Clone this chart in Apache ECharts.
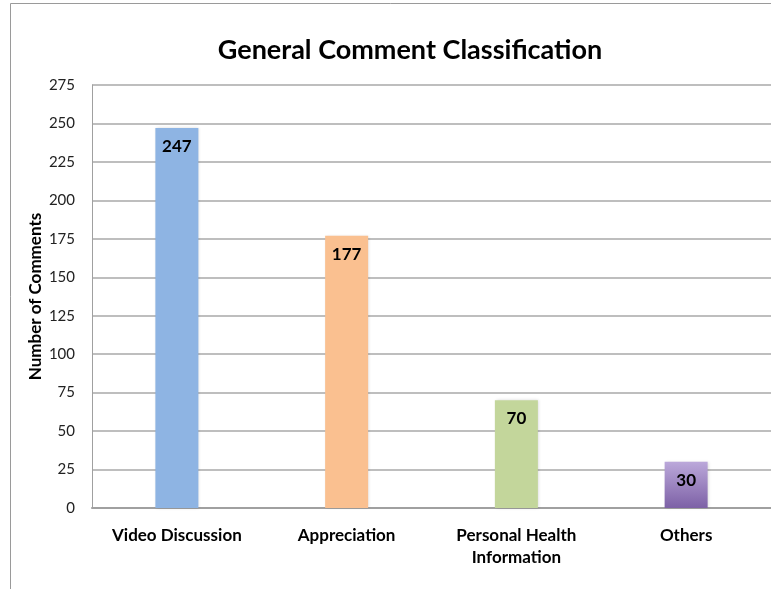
<!DOCTYPE html>
<html>
<head>
<meta charset="utf-8">
<script src="https://cdn.jsdelivr.net/npm/echarts@6/dist/echarts.min.js"></script>
<style>
  html, body { margin: 0; padding: 0; background: #fff; overflow: hidden; }
  #chart { width: 771px; height: 589px; }
</style>
</head>
<body>
<div id="chart"></div>
<script>
// chart data
var categories = ['Video Discussion', 'Appreciation', 'Personal Health\nInformation', 'Others']
var comments = [247, 177, 70, 30]
var barColors = ['#8EB4E3', '#FAC090', '#C3D69B', null]

var chart = echarts.init(document.getElementById('chart'))

chart.setOption({
  animation: false,
  textStyle: { fontFamily: 'Lato' },
  title: {
    text: 'General Comment Classification',
    left: 405,
    top: 32,
    textAlign: 'center',
    textStyle: { fontSize: 27, fontWeight: 'bold', color: '#000', fontFamily: 'Lato' }
  },
  grid: {
    left: 92,
    right: -9,
    top: 85,
    bottom: 81
  },
  graphic: [
    {
      type: 'line',
      shape: { x1: 10.5, y1: 3.5, x2: 10.5, y2: 589 },
      style: { stroke: '#9a9a9a', lineWidth: 1 }
    },
    {
      type: 'line',
      shape: { x1: 10.5, y1: 3.5, x2: 771, y2: 3.5 },
      style: { stroke: '#9a9a9a', lineWidth: 1 }
    }
  ],
  xAxis: {
    type: 'category',
    data: categories,
    axisTick: { show: false },
    axisLine: { lineStyle: { color: '#a0a0a0', width: 2 } },
    axisLabel: {
      margin: 17,
      fontSize: 17,
      fontWeight: 'bold',
      color: '#000',
      lineHeight: 22,
      interval: 0
    }
  },
  yAxis: {
    type: 'value',
    min: 0,
    max: 275,
    interval: 25,
    name: 'Number of Comments',
    nameLocation: 'middle',
    nameGap: 48,
    nameMoveOverlap: false,
    nameTextStyle: { fontSize: 17, fontWeight: 'bold', color: '#000' },
    axisLine: { show: true, lineStyle: { color: '#a0a0a0', width: 1 } },
    axisTick: { show: false },
    axisLabel: { margin: 17, fontSize: 15, color: '#222' },
    splitLine: { lineStyle: { color: '#a8a8a8', width: 1.5 } }
  },
  series: [
    {
      type: 'bar',
      barWidth: 43,
      data: comments.map(function (v, i) {
        var color = barColors[i]
        if (!color) {
          color = new echarts.graphic.LinearGradient(0, 0, 0, 1, [
            { offset: 0, color: '#BBA8DA' },
            { offset: 1, color: '#7D61A6' }
          ])
        }
        return { value: v, itemStyle: { color: color } }
      }),
      itemStyle: {
        shadowColor: 'rgba(0,0,0,0.15)',
        shadowBlur: 3,
        shadowOffsetX: 1
      },
      label: {
        show: true,
        position: 'insideTop',
        distance: 10,
        fontSize: 17,
        fontWeight: 'bold',
        color: '#000'
      }
    }
  ]
})
</script>
</body>
</html>
